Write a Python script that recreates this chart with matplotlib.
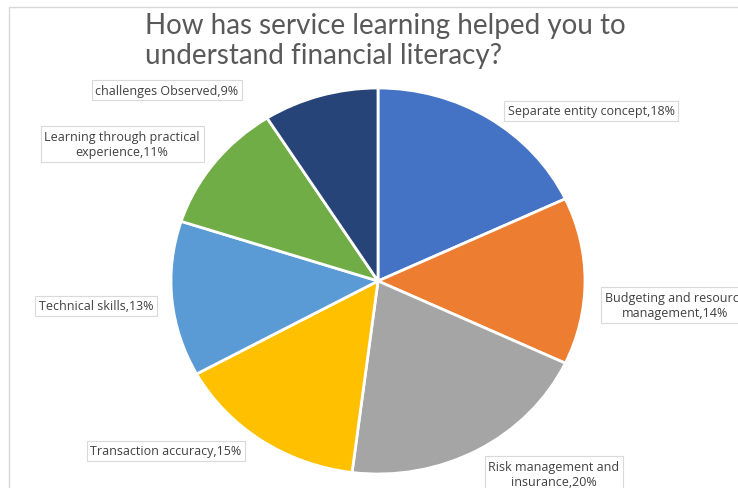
import matplotlib.pyplot as plt
from matplotlib.patches import Rectangle

# data (clockwise from 12 o'clock)
categories = ["Separate entity concept", "Budgeting and resource management",
              "Risk management and insurance", "Transaction accuracy",
              "Technical skills", "Learning through practical experience",
              "challenges Observed"]
shares = [18, 14, 20, 15, 13, 11, 9]
colors = ["#4472C4", "#ED7D31", "#A5A5A5", "#FFC000", "#5B9BD5", "#70AD47", "#264478"]

# label text as wrapped in the original
label_text = ["Separate entity concept,18%",
              "Budgeting and resource\nmanagement,14%",
              "Risk management and\ninsurance,20%",
              "Transaction accuracy,15%",
              "Technical skills,13%",
              "Learning through practical\nexperience,11%",
              "challenges Observed,9%"]
# label centres in pixels (x, y from top)
label_pos = [(591, 112), (675, 306), (554, 475), (166, 452),
             (96, 307), (122, 145), (167, 91)]

W, H = 738, 489
fig = plt.figure(figsize=(W / 100, H / 100), dpi=100)
plt.rcParams['font.family'] = ['Lato', 'DejaVu Sans']

# chart frame (cropped on right/bottom)
fig.patches.append(Rectangle((9 / W, -0.1), 1.2, 1 - 8 / H + 0.1,
                             transform=fig.transFigure, fill=False,
                             edgecolor="#D9D9D9", linewidth=1))

# pie axes: centre (378, 282), radii 207 x 193 px
cx, cy, rx, ry = 378, 282, 207, 193
ax = fig.add_axes([(cx - rx) / W, (H - cy - ry) / H, 2 * rx / W, 2 * ry / H])
ax.pie(shares, colors=colors, startangle=90, counterclock=False,
       wedgeprops=dict(edgecolor="white", linewidth=2))
ax.set_aspect('auto')
ax.set_xlim(-1, 1)
ax.set_ylim(-1, 1)
ax.axis('off')

fig.text(145 / W, 1 - 13 / H,
         "How has service learning helped you to\nunderstand financial literacy?",
         ha="left", va="top", fontsize=20, color="#595959", linespacing=1.2)

for txt, (px, py) in zip(label_text, label_pos):
    fig.text(px / W, 1 - py / H, txt, ha="center", va="center",
             fontsize=9, color="#404040", linespacing=1.2,
             family=["Open Sans", "DejaVu Sans"],
             bbox=dict(boxstyle="square,pad=0.3", facecolor="white",
                       edgecolor="#D9D9D9", linewidth=0.8))

fig.savefig("out.png", dpi=100, facecolor="white")
